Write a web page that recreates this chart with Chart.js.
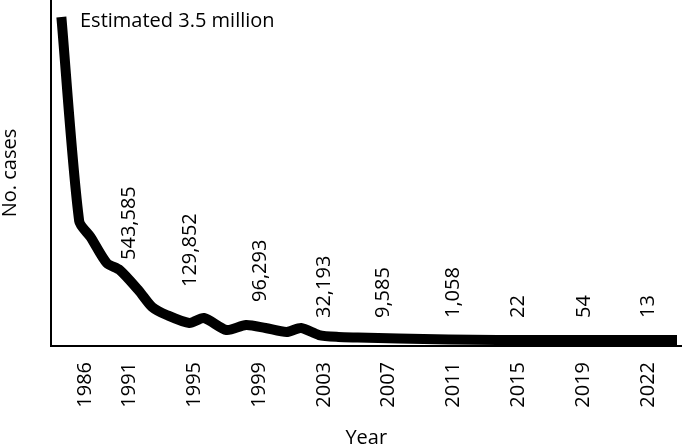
<!DOCTYPE html>
<html>
<head>
<meta charset="utf-8">
<script src="https://cdn.jsdelivr.net/npm/chart.js@4/dist/chart.umd.min.js"></script>
<style>
  html, body { margin: 0; padding: 0; background: #fff; overflow: hidden; }
</style>
</head>
<body>
<canvas id="chart" width="688" height="446"></canvas>
<script>
// line: year (as placed on the axis) and number of cases
const years = [1986.8, 1987.9, 1988.6, 1989.6, 1990.4, 1991.6, 1992.4, 1993.3, 1994.7, 1995.6,
    1997.0, 1998.2, 1999.4, 2000.7, 2001.6, 2002.7, 2003.9, 2005.1, 2007.6, 2010.7, 2013.7, 2024.8];
const cases = [3500000, 1289000, 1116000, 834000, 758000, 531000, 358000, 271000, 184000, 238000,
    108000, 163000, 130000, 87000, 130000, 54000, 33000, 27000, 16000, 5000, 500, 0];

// x axis labels and where they sit on the axis
const tickLabels = ["1986", "1991", "1995", "1999", "2003", "2007", "2011", "2015", "2019", "2022"];
const tickAt = [1988.25, 1991, 1995, 1999, 2003, 2007, 2011, 2015, 2019, 2023];

// reported counts written above the line
const noteText = ["543,585", "129,852", "96,293", "32,193", "9,585", "1,058", "22", "54", "13"];
const noteYear = [1991, 1994.75, 1999.05, 2003, 2006.7, 2011, 2015, 2019.05, 2023];
const noteBase = [867000, 574000, 412000, 238000, 238000, 238000, 238000, 238000, 238000];

const topNote = "Estimated 3.5 million";

const font = "'Open Sans', 'Noto Sans', sans-serif";
const fontSize = 20;

const notesPlugin = {
    id: 'notes',
    afterDatasetsDraw(chart) {
        const ctx = chart.ctx;
        const x = chart.scales.x;
        const y = chart.scales.y;
        ctx.save();
        ctx.fillStyle = '#000';
        ctx.font = fontSize + 'px ' + font;
        ctx.textBaseline = 'alphabetic';
        ctx.textAlign = 'left';
        ctx.fillText(topNote, x.getPixelForValue(1987.95), y.getPixelForValue(3392000));
        noteText.forEach((t, i) => {
            ctx.save();
            ctx.translate(x.getPixelForValue(noteYear[i]), y.getPixelForValue(noteBase[i]));
            ctx.rotate(-Math.PI / 2);
            ctx.textBaseline = 'middle';
            ctx.fillText(t, 0, 0);
            ctx.restore();
        });
        ctx.restore();
    }
};

new Chart(document.getElementById('chart'), {
    type: 'line',
    data: {
        datasets: [{
            data: years.map((yr, i) => ({x: yr, y: cases[i]})),
            borderColor: '#000',
            borderWidth: 10,
            borderJoinStyle: 'round',
            pointRadius: 0,
            tension: 0.25,
            fill: false
        }]
    },
    options: {
        responsive: false,
        devicePixelRatio: 1,
        animation: false,
        layout: { padding: { top: 0, right: 3, left: 0, bottom: 0 } },
        plugins: {
            legend: { display: false },
            tooltip: { enabled: false }
        },
        scales: {
            x: {
                type: 'linear',
                min: 1986.16,
                max: 2025.08,
                afterFit: (scale) => { scale.height = 100; },
                afterBuildTicks: (scale) => {
                    scale.ticks = tickAt.map(v => ({value: v}));
                },
                grid: { display: false, drawTicks: false },
                border: { display: true, color: '#000', width: 2 },
                ticks: {
                    autoSkip: false,
                    minRotation: 90,
                    maxRotation: 90,
                    padding: 16,
                    color: '#000',
                    font: { family: font, size: fontSize },
                    callback: (value, index) => tickLabels[index]
                },
                title: {
                    display: true,
                    text: 'Year',
                    color: '#000',
                    font: { family: font, size: fontSize },
                    padding: { top: 0, bottom: -4 }
                }
            },
            y: {
                min: -65000,
                max: 3684000,
                afterFit: (scale) => { scale.width = 51; },
                grid: { display: false, drawTicks: false },
                border: { display: true, color: '#000', width: 2 },
                ticks: { display: false },
                title: {
                    display: true,
                    text: 'No. cases',
                    color: '#000',
                    font: { family: font, size: fontSize },
                    padding: { top: -2, bottom: 0 }
                }
            }
        }
    },
    plugins: [notesPlugin]
});
</script>
</body>
</html>
